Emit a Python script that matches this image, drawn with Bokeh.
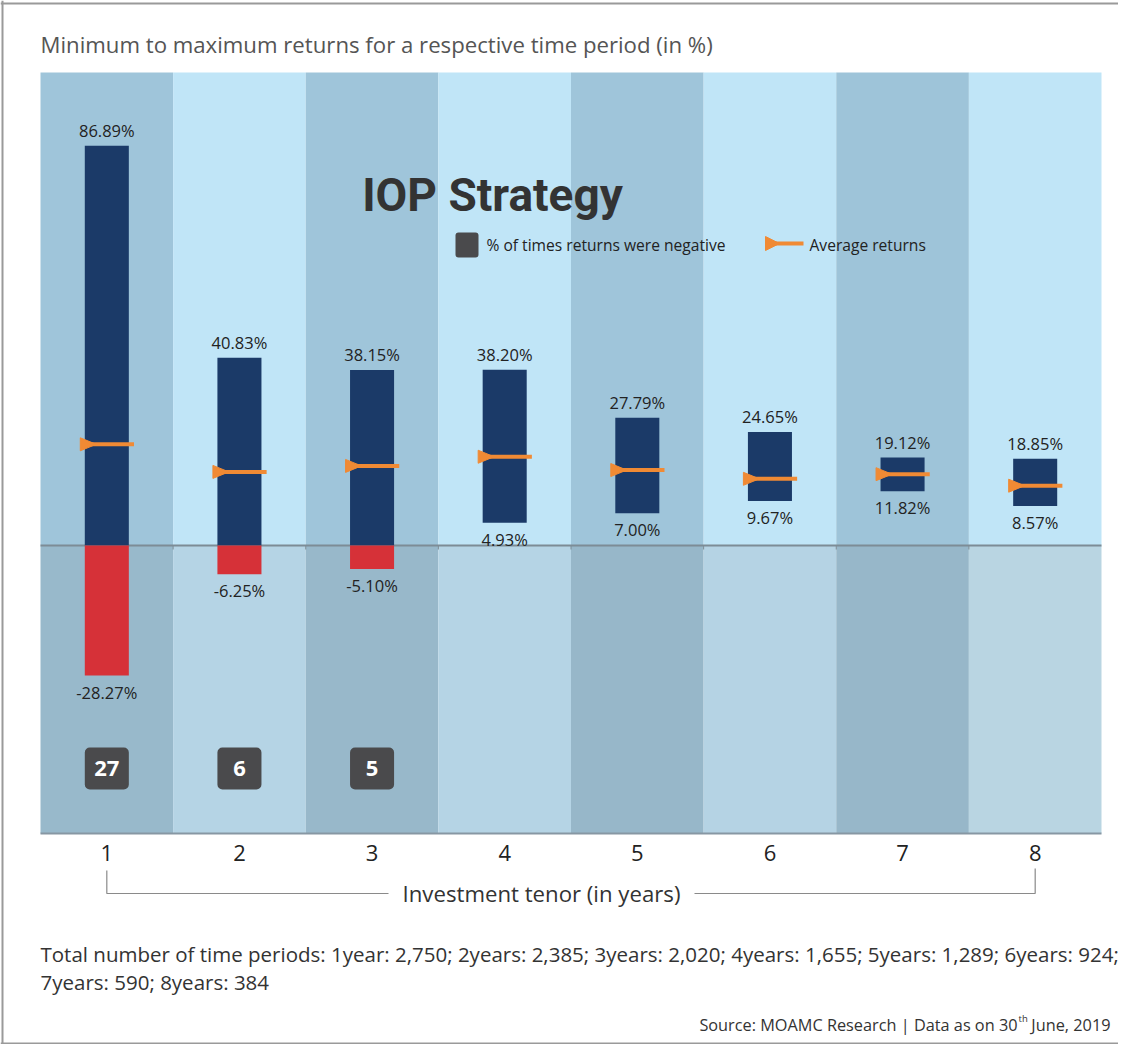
import numpy as np
from bokeh.plotting import figure
from bokeh.models import Range1d, BoxAnnotation, Label
from bokeh.core.properties import value
from bokeh.embed import file_html
from bokeh.resources import INLINE

# ---------------- data ----------------
tenor = [1, 2, 3, 4, 5, 6, 7, 8]
tenor_labels = ["1", "2", "3", "4", "5", "6", "7", "8"]
max_ret = [86.89, 40.83, 38.15, 38.20, 27.79, 24.65, 19.12, 18.85]
min_ret = [-28.27, -6.25, -5.10, 4.93, 7.00, 9.67, 11.82, 8.57]
avg_ret = [22.0, 16.0, 17.3, 19.3, 16.4, 14.5, 15.5, 13.0]
neg_tenor = [1, 2, 3]
neg_share = [27, 6, 5]          # % of times returns were negative
periods = [2750, 2385, 2020, 1655, 1289, 924, 590, 384]

# ---------------- layout helpers ----------------
W, H = 1118, 1044
COL = 132.625      # px per tenor column
X0 = 40            # left edge of chart area (px)
ZERO_Y = 545       # zero line (px from top)
PPU = 4.6          # px per percent


def dx(px):
    return 0.5 + (px - X0) / COL


def dy(py):
    return (ZERO_Y - py) / PPU


FONT = value("Open Sans")
NAVY = "#1b3a68"
RED = "#d63138"
ORANGE = "#f08a34"
BADGE = "#4a4a4c"
TXT = "#222222"

p = figure(width=W, height=H,
           x_range=Range1d(dx(0), dx(W)), y_range=Range1d(dy(H), dy(0)),
           x_axis_type=None, y_axis_type=None, toolbar_location=None,
           output_backend="svg", min_border=0, outline_line_color=None,
           background_fill_color="white", border_fill_color="white")

# ---------------- backgrounds ----------------
top_cols = ["#9fc5da", "#c0e5f7", "#9fc5da", "#c0e5f7", "#9fc5da", "#c0e5f7", "#9ec4d9", "#c0e5f7"]
bot_cols = ["#98b9cb", "#b5d4e5", "#98b8ca", "#b5d4e5", "#97b7c9", "#b5d3e4", "#97b7c9", "#b9d5e2"]
t = np.array(tenor, dtype=float)
p.quad(left=t - 0.5, right=t + 0.5, bottom=0, top=dy(72), fill_color=top_cols, line_color=None)
p.quad(left=t - 0.5, right=t + 0.5, bottom=dy(833), top=0, fill_color=bot_cols, line_color=None)

# zero line and bottom line
p.segment(x0=[0.5], x1=[8.5], y0=[0], y1=[0], line_color="#7d8c96", line_width=2)
p.segment(x0=t[1:] - 0.5, x1=t[1:] - 0.5, y0=0, y1=dy(549), line_color="#7d8c96", line_width=1)
p.segment(x0=[0.5], x1=[8.5], y0=[dy(833)], y1=[dy(833)], line_color="#8797a3", line_width=2)

# ---------------- bars ----------------
mx = np.array(max_ret)
mn = np.array(min_ret)
HW = 0.166
p.quad(left=t - HW, right=t + HW, bottom=np.maximum(mn, 0), top=mx, fill_color=NAVY, line_color=None)
neg = mn < 0
p.quad(left=t[neg] - HW, right=t[neg] + HW, bottom=mn[neg], top=0, fill_color=RED, line_color=None)

# value labels
p.text(x=t, y=mx, text=[f"{v:.2f}%" for v in max_ret], text_font=FONT, text_font_size="16.5px",
       text_color=TXT, text_align="center", text_baseline="bottom", y_offset=-4)
p.text(x=t, y=mn, text=[f"{v:.2f}%" for v in min_ret], text_font=FONT, text_font_size="16.5px",
       text_color=TXT, text_align="center", text_baseline="top", y_offset=5)

# ---------------- average markers ----------------
av = np.array(avg_ret)
TH = 6.5 / PPU
p.segment(x0=t - 0.15, x1=t + 0.205, y0=av, y1=av, line_color=ORANGE, line_width=4)
p.patches(xs=[[x - 0.2, x - 0.2, x - 0.08] for x in t],
          ys=[[a + TH, a - TH, a] for a in av], fill_color=ORANGE, line_color=ORANGE)

# ---------------- negative-share badges ----------------
for tt, n in zip(neg_tenor, neg_share):
    p.add_layout(BoxAnnotation(left=tt - HW, right=tt + HW, top=dy(747), bottom=dy(789),
                               fill_color=BADGE, fill_alpha=1, line_color=None, border_radius=5))
for tt, n in zip(neg_tenor, neg_share):
    p.add_layout(Label(x=tt, y=dy(768), text=str(n), text_font="Open Sans",
                       text_font_style="bold", text_font_size="22px", text_color="white",
                       text_align="center", text_baseline="middle"))

# ---------------- titles / legend ----------------
p.text(x=[dx(40)], y=[dy(44)], text=["Minimum to maximum returns for a respective time period (in %)"],
       text_font=FONT, text_font_size="22.2px", text_color="#555555", text_align="left",
       text_baseline="middle")
p.text(x=[dx(492)], y=[dy(194)], text=["IOP Strategy"], text_font=value("Roboto"),
       text_font_style="bold", text_font_size="46px", text_color="#333333",
       text_align="center", text_baseline="middle")

p.add_layout(BoxAnnotation(left=dx(455), right=dx(478), top=dy(232), bottom=dy(257),
                           fill_color=BADGE, fill_alpha=1, line_color=None, border_radius=3))
p.text(x=[dx(486)], y=[dy(244)], text=["% of times returns were negative"], text_font=FONT,
       text_font_size="15.6px", text_color=TXT, text_align="left", text_baseline="middle")
p.segment(x0=[dx(768)], x1=[dx(803)], y0=[dy(243)], y1=[dy(243)], line_color=ORANGE, line_width=4)
p.patch(x=[dx(765), dx(765), dx(779)], y=[dy(236), dy(250), dy(243)], fill_color=ORANGE, line_color=ORANGE)
p.text(x=[dx(809)], y=[dy(244)], text=["Average returns"], text_font=FONT,
       text_font_size="15.6px", text_color=TXT, text_align="left", text_baseline="middle")

# ---------------- x tick labels & axis caption ----------------
p.text(x=t, y=[dy(852)] * len(tenor), text=tenor_labels, text_font=FONT, text_font_size="22px",
       text_color=TXT, text_align="center", text_baseline="middle")
p.line(x=[1, 1, dx(388)], y=[dy(870), dy(893), dy(893)], line_color="#8a8a8a", line_width=1.2)
p.line(x=[dx(694), 8, 8], y=[dy(893), dy(893), dy(868)], line_color="#8a8a8a", line_width=1.2)
p.text(x=[dx(541)], y=[dy(893)], text=["Investment tenor (in years)"], text_font=FONT,
       text_font_size="22.2px", text_color="#333333", text_align="center", text_baseline="middle")

# ---------------- footer ----------------
parts = [f"{y}{'year' if y == 1 else 'years'}: {n:,}" for y, n in zip(tenor, periods)]
line1 = "Total number of time periods: " + "; ".join(parts[:6]) + ";"
line2 = "; ".join(parts[6:])
p.text(x=[dx(40), dx(40)], y=[dy(953), dy(981)], text=[line1, line2], text_font=FONT,
       text_font_size="20.5px", text_color="#333333", text_align="left", text_baseline="middle")

p.text(x=[dx(1017)], y=[dy(1024)], text=["Source: MOAMC Research | Data as on 30"], text_font=FONT,
       text_font_size="16.3px", text_color="#333333", text_align="right", text_baseline="middle")
p.text(x=[dx(1018)], y=[dy(1018)], text=["th"], text_font=FONT,
       text_font_size="9.5px", text_color="#333333", text_align="left", text_baseline="middle")
p.text(x=[dx(1110)], y=[dy(1024)], text=["June, 2019"], text_font=FONT,
       text_font_size="16.3px", text_color="#333333", text_align="right", text_baseline="middle")

# ---------------- frame border ----------------
p.segment(x0=[dx(0), dx(0), dx(2)], x1=[dx(W), dx(W), dx(2)],
          y0=[dy(3), dy(H - 1), dy(0)], y1=[dy(3), dy(H - 1), dy(H)],
          line_color="#9a9a9a", line_width=2)

open("out.html", "w").write(file_html(p, INLINE))
